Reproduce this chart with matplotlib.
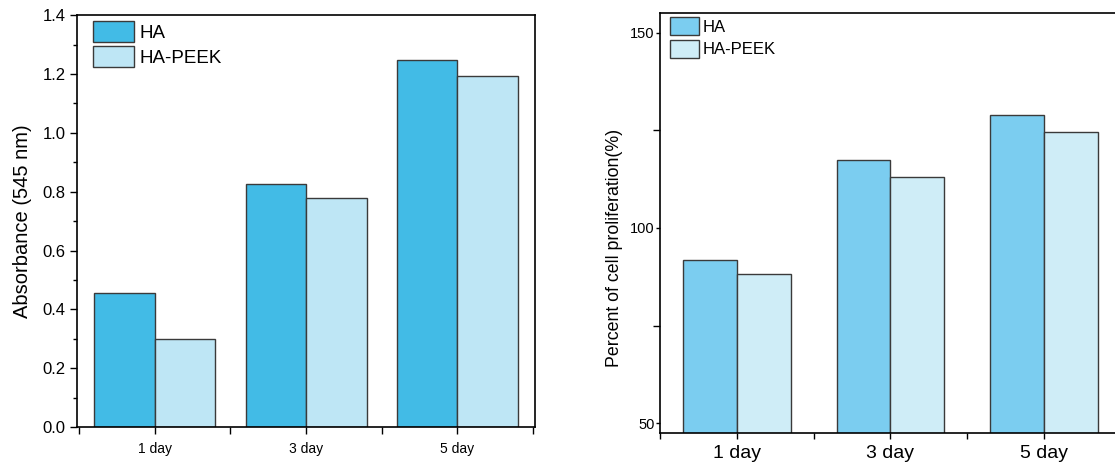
import matplotlib
matplotlib.use("Agg")
from matplotlib import pyplot as plt
from matplotlib.ticker import MultipleLocator
import numpy as np

plt.rcParams['font.family'] = ['Liberation Sans', 'DejaVu Sans']

days = ["1 day", "3 day", "5 day"]
series = ["HA", "HA-PEEK"]

# left panel: absorbance at 545 nm
absorb_ha = [0.456, 0.827, 1.249]
absorb_peek = [0.300, 0.779, 1.194]

# right panel: percent of cell proliferation
prolif_ha = [91.8, 117.5, 129.0]
prolif_peek = [88.2, 113.0, 124.5]

left_colors = ["#42BBE6", "#BEE6F5"]
right_colors = ["#7BCDF0", "#CFEDF7"]
EDGE = "#3a3a3a"

fig = plt.figure(figsize=(11.15, 4.68), dpi=100)
ax1 = fig.add_axes([0.069, 0.0876, 0.411, 0.880])
ax2 = fig.add_axes([0.592, 0.075, 0.413, 0.897])

x = np.arange(1, len(days) + 1)

# ---- left panel
w1 = 0.4
ax1.bar(x - w1 / 2, absorb_ha, w1, color=left_colors[0], edgecolor=EDGE, linewidth=1, label=series[0])
ax1.bar(x + w1 / 2, absorb_peek, w1, color=left_colors[1], edgecolor=EDGE, linewidth=1, label=series[1])
ax1.set_xlim(0.484, 3.516)
ax1.set_ylim(0, 1.4)
ax1.set_xticks(x)
ax1.set_xticklabels(days, fontsize=10)
ax1.xaxis.set_minor_locator(MultipleLocator(0.5))
ax1.yaxis.set_major_locator(MultipleLocator(0.2))
ax1.yaxis.set_minor_locator(MultipleLocator(0.1))
ax1.yaxis.set_major_formatter(plt.FormatStrFormatter('%.1f'))
ax1.tick_params(axis='y', which='major', direction='out', length=5, width=1, labelsize=12, pad=3)
ax1.tick_params(axis='y', which='minor', direction='out', length=3, width=1)
ax1.tick_params(axis='x', which='both', direction='out', length=5, width=1, pad=6)
ax1.set_ylabel("Absorbance (545 nm)", fontsize=14.5, labelpad=8)
for s in ax1.spines.values():
    s.set_linewidth(1.2)
ax1.legend(loc='upper left', bbox_to_anchor=(0.035, 0.985), fontsize=13.5, frameon=False,
           handlelength=2.2, handleheight=1.35, handletextpad=0.3, labelspacing=0.2,
           borderaxespad=0, borderpad=0)

# ---- right panel
w2 = 0.35
ax2.bar(x - w2 / 2, prolif_ha, w2, color=right_colors[0], edgecolor=EDGE, linewidth=1, label=series[0])
ax2.bar(x + w2 / 2, prolif_peek, w2, color=right_colors[1], edgecolor=EDGE, linewidth=1, label=series[1])
ax2.set_xlim(0.5, 3.5)
ax2.set_ylim(47.5, 155)
ax2.set_xticks(x)
ax2.set_xticklabels(days, fontsize=14)
ax2.xaxis.set_minor_locator(MultipleLocator(0.5))
ax2.yaxis.set_major_locator(MultipleLocator(50))
ax2.yaxis.set_minor_locator(MultipleLocator(25))
ax2.tick_params(axis='y', which='major', direction='out', length=3, width=1, labelsize=10.5, pad=1)
ax2.tick_params(axis='y', which='minor', direction='out', length=5, width=1)
ax2.tick_params(axis='x', which='both', direction='out', length=4, width=1, pad=5)
ax2.set_ylabel("Percent of cell proliferation(%)", fontsize=12.8)
ax2.yaxis.set_label_coords(-0.08, 0.44)
for s in ax2.spines.values():
    s.set_linewidth(1.2)
ax2.legend(loc='upper left', bbox_to_anchor=(0.022, 0.99), fontsize=12, frameon=False,
           handlelength=1.75, handleheight=1.3, handletextpad=0.2, labelspacing=0.25,
           borderaxespad=0, borderpad=0)

plt.savefig("out.png", dpi=100)
